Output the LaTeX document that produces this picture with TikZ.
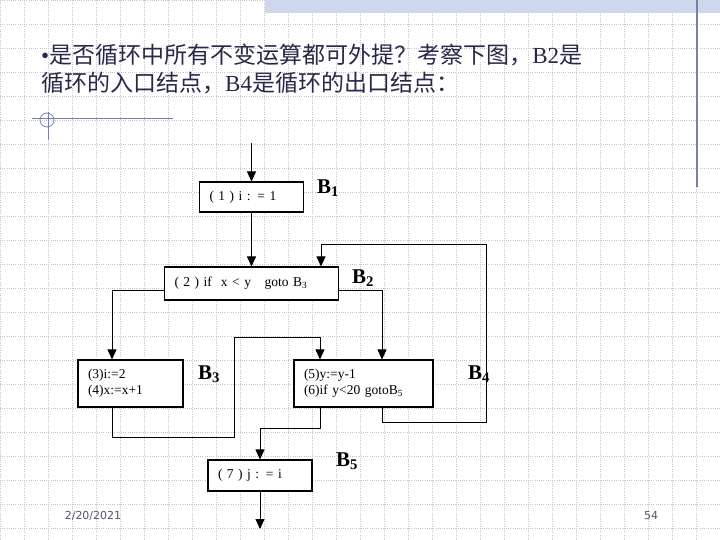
\documentclass[tikz,border=0pt]{standalone}
\usepackage{fontspec}
\setmainfont{Liberation Serif}
\newfontfamily\cjk{Noto Sans CJK SC}
\newfontfamily\footfont{DejaVu Sans}
\usetikzlibrary{arrows.meta}
\definecolor{textnavy}{RGB}{40,40,72}
\definecolor{framegray}{RGB}{120,128,170}
\definecolor{bandblue}{RGB}{206,215,235}
\definecolor{gridgray}{RGB}{198,198,198}

\begin{document}
\begin{tikzpicture}[x=1pt, y=-1pt,
    box/.style={draw, fill=white, line width=1.1pt, inner xsep=10pt, inner ysep=0pt, align=left, font=\fontsize{13.5}{16}\selectfont},
    blocklabel/.style={inner sep=0pt, font=\fontsize{21}{24}\selectfont\bfseries},
    flow/.style={-{Triangle[length=10pt,width=9pt]}, line width=0.8pt},
    gridline/.style={gridgray, line width=0.6pt, dash pattern=on 1pt off 1.2pt},
    title/.style={anchor=west, inner sep=0pt, text=textnavy, font=\cjk\fontsize{23}{28}\selectfont},
    footer/.style={inner sep=0pt, text=textnavy!80, font=\footfont\fontsize{11}{13}\selectfont}]
            \useasboundingbox (0,0) rectangle (720,540);

            % Background
            \foreach \gx in {0,24,...,720} \draw[gridline] (\gx+0.5,0) -- (\gx+0.5,540);
            \foreach \gy in {0,24,...,540} \draw[gridline] (0,\gy) -- (720,\gy);
            \fill[bandblue] (265,0) rectangle (720,13);
            \draw[framegray, line width=1.2pt] (697,0) -- (697,187);
            \draw[framegray, line width=1pt] (32,119) -- (173,119);
            \draw[framegray, line width=1pt] (48,112) -- (48,140);
            \draw[framegray, line width=0.8pt] (47,120) circle (7pt);

            % Title
            \node[title] (line1) at (41,55) {{\rmfamily\textbullet}是否循环中所有不变运算都可外提？考察下图，{\rmfamily B2}是};
            \node[title] (line2) at (41,83) {循环的入口结点，{\rmfamily B4}是循环的出口结点：};

            % Nodes
            \coordinate (in) at (251.5,143);
            \node[box, text width=84pt, minimum height=30pt] (B1) at (251.5,197) {( 1 ) i : = 1};
            \node[box, text width=154pt, minimum height=33pt] (B2) at (251.5,283.5) {( 2 ) if\ \ x < y\ \ \ goto B\textsubscript{3}};
            \node[box, text width=85pt, minimum height=47pt] (B3) at (130.5,383.5) {(3)i:=2\\(4)x:=x+1};
            \node[box, text width=119pt, minimum height=47pt] (B4) at (363.5,383.5) {(5)y:=y-1\\(6)if y<20 gotoB\textsubscript{5}};
            \node[box, text width=84pt, minimum height=31pt] (B5) at (260,475.5) {( 7 ) j : = i};
            \coordinate (out) at (260,529);

            % Labels
            \node[blocklabel] (L1) at (328,188) {B\textsubscript{1}};
            \node[blocklabel] (L2) at (363,278) {B\textsubscript{2}};
            \node[blocklabel] (L3) at (209,374) {B\textsubscript{3}};
            \node[blocklabel] (L4) at (479,374) {B\textsubscript{4}};
            \node[blocklabel] (L5) at (347,461) {B\textsubscript{5}};

            % Edges
            \draw[flow] (in) -- (B1);
            \draw[flow] (B1) -- (B2);
            \draw[flow] ([yshift=-6.5pt]B2.west) -| ([xshift=-18.5pt]B3.north);
            \draw[flow] ([yshift=-6.5pt]B2.east) -| ([xshift=18.5pt]B4.north);
            \draw[flow] ([xshift=-18.5pt]B3.south) -- ++(0,30) -| (234,337) -| ([xshift=-43.5pt]B4.north);
            \draw[flow] ([xshift=-43.5pt]B4.south) -- ++(0,21) -| (B5.north);
            \draw[flow] ([xshift=18.5pt]B4.south) -- ++(0,15) -| (486,244) -| ([xshift=69.5pt]B2.north);
            \draw[flow] (B5) -- (out);

            % Footer
            \node[footer] (date) at (93,516) {2/20/2021};
            \node[footer] (page) at (651,516) {54};
        \end{tikzpicture}
\end{document}
